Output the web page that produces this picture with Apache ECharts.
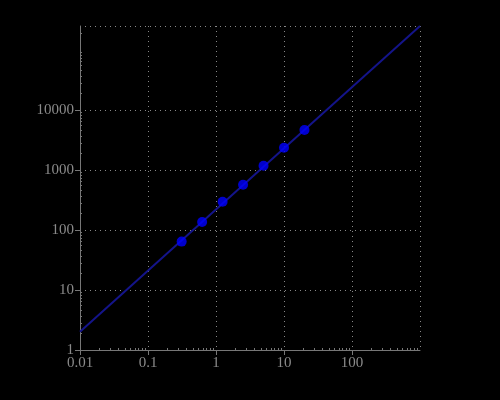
<!DOCTYPE html>
<html><head><meta charset="utf-8">
<script src="https://cdn.jsdelivr.net/npm/echarts@6/dist/echarts.min.js"></script>
<style>html,body{margin:0;padding:0;background:#000}#c{width:500px;height:400px}</style>
</head><body><div id="c"></div>
<script>
// measured points
var pointX = [0.3125, 0.625, 1.25, 2.5, 5, 10, 20];
var pointY = [64, 136, 296, 569, 1180, 2350, 4640];
// fitted line endpoints
var lineX = [0.01, 1000];
var lineY = [2.02, 251000];
var xMin = 0.01, xMax = 1000;
var yMin = 1, yMax = 251000;
var xTicks = [0.01, 0.1, 1, 10, 100];
var xTickLabels = ['0.01', '0.1', '1', '10', '100'];
var yTicks = [1, 10, 100, 1000, 10000];
var yTickLabels = ['1', '10', '100', '1000', '10000'];

var gray = '#8a8a8a';
var chart = echarts.init(document.getElementById('c'));
var ptData = pointX.map(function (x, i) { return [x, pointY[i]]; });
var lnData = lineX.map(function (x, i) { return [x, lineY[i]]; });
var lg = function (v) { return Math.round(Math.log10(v) * 1000) / 1000; };
function fmt(ticks, labels) {
  return function (v) {
    for (var i = 0; i < ticks.length; i++) if (lg(ticks[i]) === lg(v)) return labels[i];
    return '';
  };
}
var labelStyle = { color: gray, fontFamily: 'Liberation Serif', fontSize: 15, margin: 6 };
chart.setOption({
  backgroundColor: '#000',
  animation: false,
  grid: { left: 80, right: 80, top: 26, bottom: 50 },
  xAxis: [{
    type: 'log', logBase: 10, min: xMin, max: xMax, position: 'bottom',
    axisLine: { show: true, lineStyle: { color: '#777', width: 1 } },
    axisTick: { show: false },
    minorTick: { show: true, splitNumber: 10, length: -2, lineStyle: { color: '#777' } },
    splitLine: { show: true, lineStyle: { color: '#888', type: [1, 4], width: 1 } },
    axisLabel: { show: false }
  }, {
    type: 'log', logBase: 10, min: xMin, max: xMax, position: 'bottom', offset: 0,
    axisLine: { show: false },
    axisTick: { show: true, length: 5, customValues: xTicks, lineStyle: { color: '#777' } },
    splitLine: { show: false },
    axisLabel: Object.assign({ customValues: xTicks, formatter: fmt(xTicks, xTickLabels) }, labelStyle)
  }],
  yAxis: [{
    type: 'log', logBase: 10, min: yMin, max: yMax, position: 'left',
    axisLine: { show: true, lineStyle: { color: '#777', width: 1 } },
    axisTick: { show: false },
    minorTick: { show: true, splitNumber: 10, length: -2, lineStyle: { color: '#777' } },
    splitLine: { show: true, lineStyle: { color: ['#888', '#888', '#888', '#888', '#888', 'rgba(0,0,0,0)', '#888'], type: [1, 4], width: 1 } },
    axisLabel: { show: false }
  }, {
    type: 'log', logBase: 10, min: yMin, max: yMax, position: 'left', offset: 0,
    axisLine: { show: false },
    axisTick: { show: true, length: 5, customValues: yTicks, lineStyle: { color: '#777' } },
    splitLine: { show: false },
    axisLabel: Object.assign({ customValues: yTicks, formatter: fmt(yTicks, yTickLabels) }, labelStyle)
  }],
  series: [
    { type: 'line', data: lnData, showSymbol: false, symbol: 'none',
      lineStyle: { color: '#14148a', width: 2 }, z: 2 },
    { type: 'scatter', data: ptData, symbol: 'circle', symbolSize: 10,
      itemStyle: { color: '#0000ff' }, z: 3 }
  ]
});
</script></body></html>
